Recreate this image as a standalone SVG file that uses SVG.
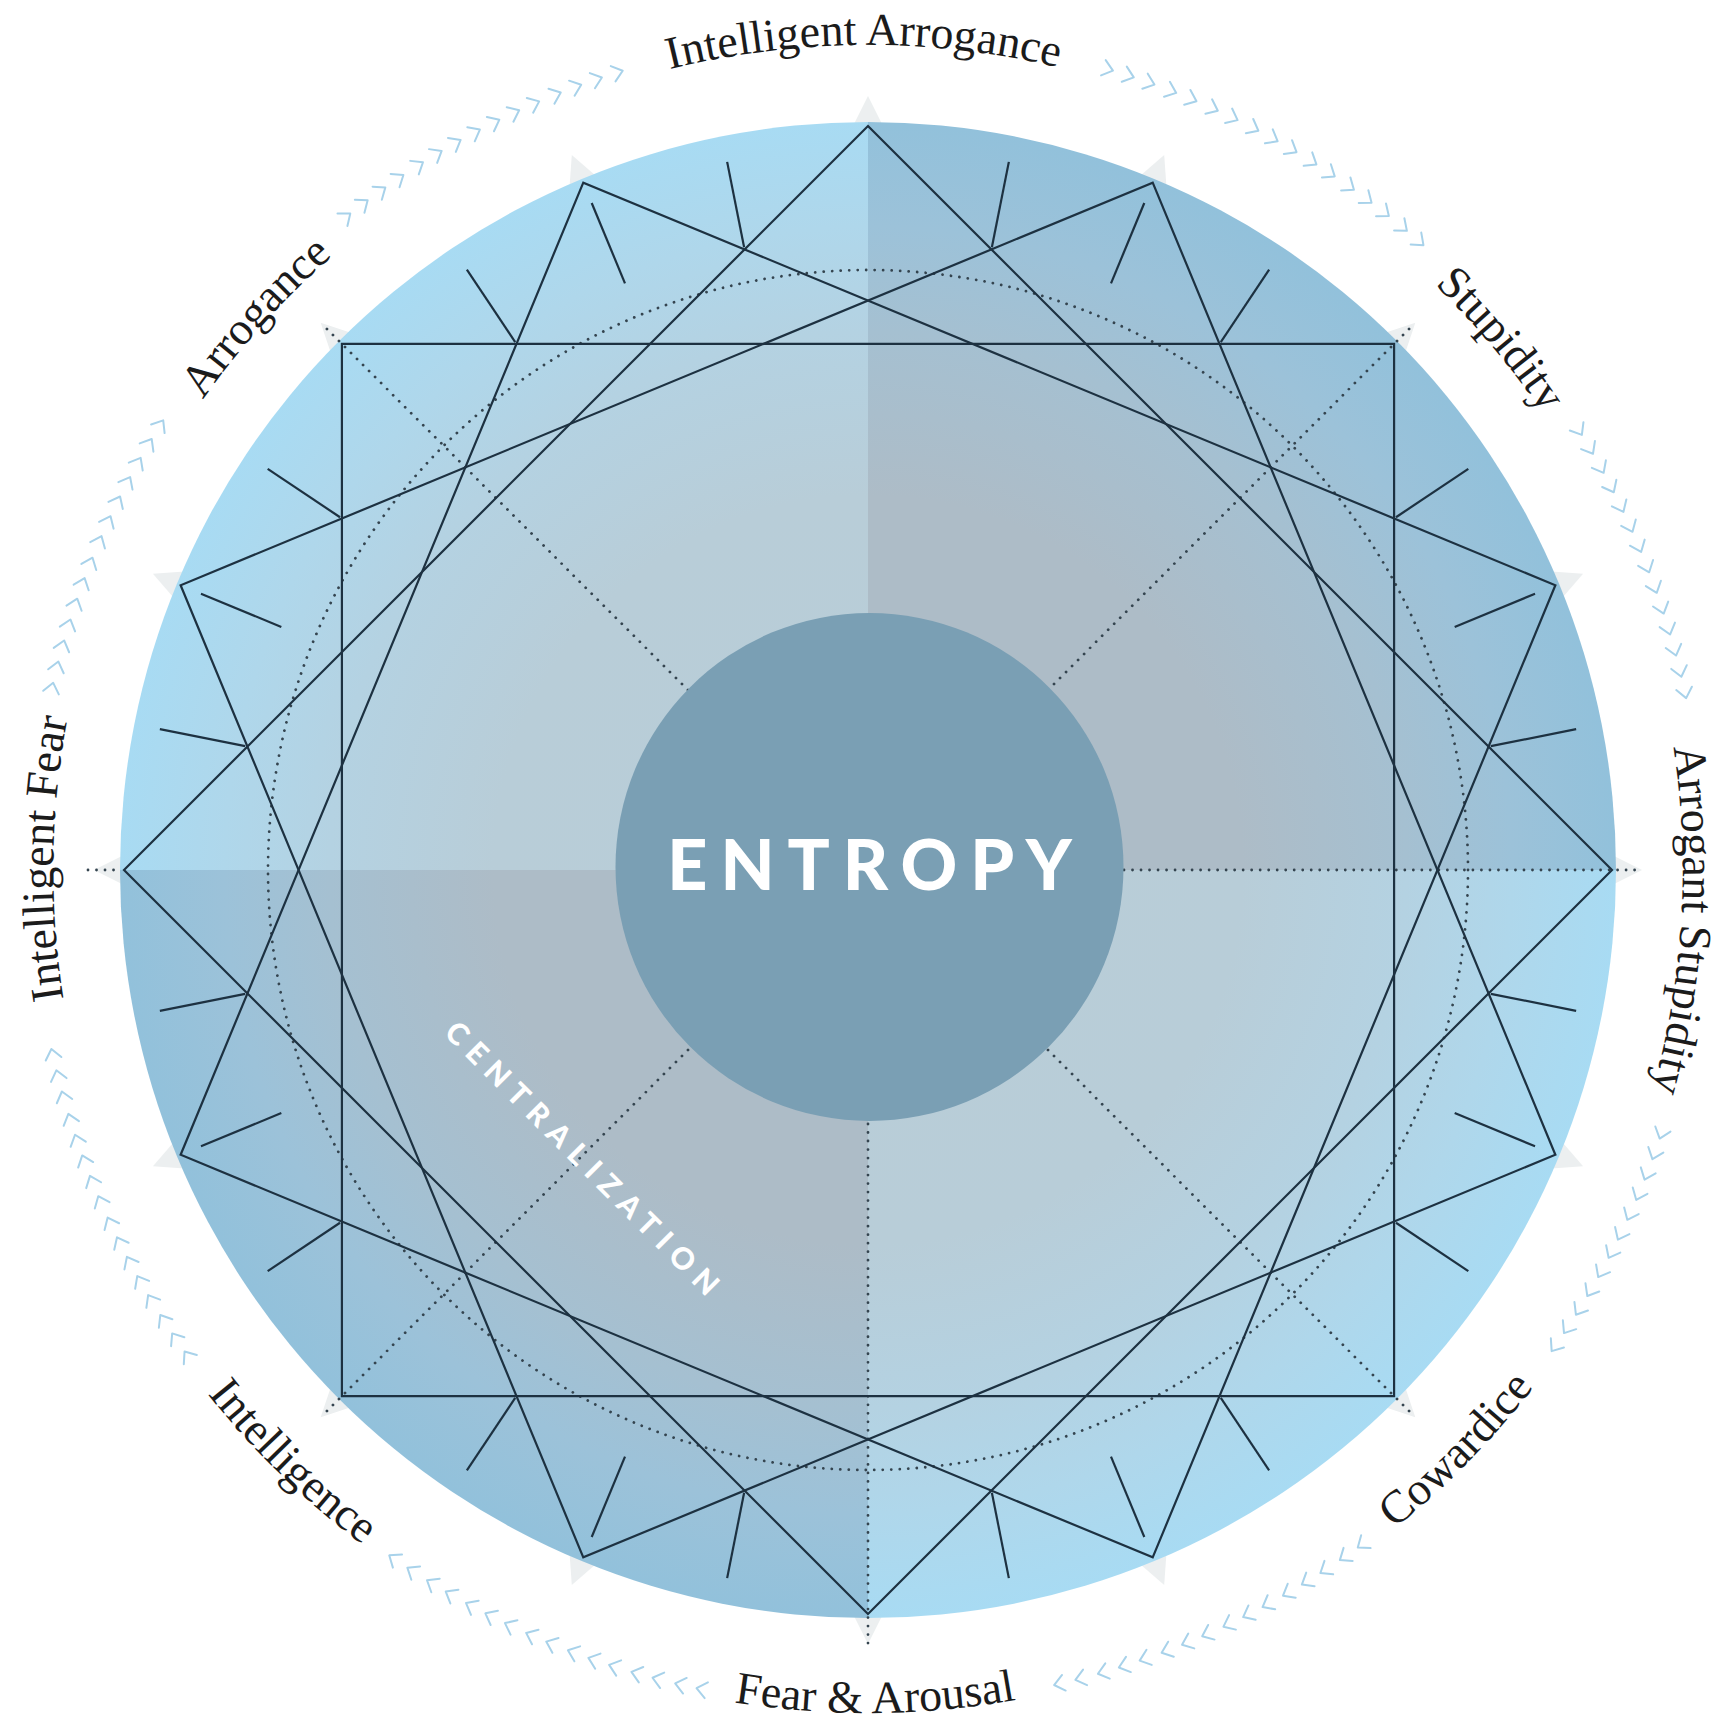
<svg xmlns="http://www.w3.org/2000/svg" width="1728" height="1725" viewBox="0 0 1728 1725">
<defs>
<style>
.star{fill:none;stroke:#1d3141;stroke-width:2.2;stroke-linejoin:miter}
.tick{stroke:#1d3141;stroke-width:2.2}
.dot{fill:none;stroke:#34444f;stroke-width:2.8;stroke-linecap:round;stroke-dasharray:0.01 8.5}
.lbl{font-family:"Liberation Serif","Times New Roman",serif;font-size:46px;fill:#1b1b1b}
.chev{fill:none;stroke:#a8d2ea;stroke-width:2;stroke-linecap:round;stroke-linejoin:round}
.shadow{fill:#eceff0}
.core{font-family:Lato,"Open Sans","Liberation Sans",sans-serif;font-weight:900;fill:#ffffff}
</style>
<radialGradient id="gL" cx="868" cy="870" r="748" gradientUnits="userSpaceOnUse">
<stop offset="0" stop-color="#b9cdd7"/>
<stop offset="0.5" stop-color="#b8cdd8"/>
<stop offset="0.72" stop-color="#b4d2e2"/>
<stop offset="0.86" stop-color="#afd7eb"/>
<stop offset="1" stop-color="#a8dbf3"/>
</radialGradient>
<radialGradient id="gD" cx="868" cy="870" r="748" gradientUnits="userSpaceOnUse">
<stop offset="0" stop-color="#adbcc7"/>
<stop offset="0.5" stop-color="#adbcc7"/>
<stop offset="0.72" stop-color="#a5c0d1"/>
<stop offset="0.86" stop-color="#9cc2d9"/>
<stop offset="1" stop-color="#92c1db"/>
</radialGradient>
<path id="vs" d="M868,96 L846,140 L890,140 Z"/>
<line id="tk" x1="868" y1="235" x2="868" y2="148"/>
<path id="cv" d="M860,26 L870,34 L860,42"/>
<path id="ao825" d="M43,870 A825,825 0 0 1 1693,870"/>
<path id="ao815" d="M53,870 A815,815 0 0 1 1683,870"/>
<path id="ai843" d="M25,870 A843,843 0 0 0 1711,870"/>
</defs>
<rect x="0" y="0" width="1728" height="1725" fill="#ffffff"/>

<g id="vertex-shadows" class="shadow">
<use href="#vs" transform="rotate(0 868 870)"/><use href="#vs" transform="rotate(22.5 868 870)"/><use href="#vs" transform="rotate(45 868 870)"/><use href="#vs" transform="rotate(67.5 868 870)"/>
<use href="#vs" transform="rotate(90 868 870)"/><use href="#vs" transform="rotate(112.5 868 870)"/><use href="#vs" transform="rotate(135 868 870)"/><use href="#vs" transform="rotate(157.5 868 870)"/>
<use href="#vs" transform="rotate(180 868 870)"/><use href="#vs" transform="rotate(202.5 868 870)"/><use href="#vs" transform="rotate(225 868 870)"/><use href="#vs" transform="rotate(247.5 868 870)"/>
<use href="#vs" transform="rotate(270 868 870)"/><use href="#vs" transform="rotate(292.5 868 870)"/><use href="#vs" transform="rotate(315 868 870)"/><use href="#vs" transform="rotate(337.5 868 870)"/>
</g>

<g id="disc">
<path d="M868,870 L120,870 A748,748 0 0 1 868,122 Z" fill="url(#gL)"/>
<path d="M868,870 L868,122 A748,748 0 0 1 1616,870 Z" fill="url(#gD)"/>
<path d="M868,870 L1616,870 A748,748 0 0 1 868,1618 Z" fill="url(#gL)"/>
<path d="M868,870 L868,1618 A748,748 0 0 1 120,870 Z" fill="url(#gD)"/>
</g>

<g id="guides" class="dot">
<circle cx="868" cy="870" r="600"/>
<line x1="688" y1="690" x2="322" y2="324"/>
<line x1="1048" y1="690" x2="1414" y2="324"/>
<line x1="1048" y1="1050" x2="1414" y2="1416"/>
<line x1="688" y1="1050" x2="322" y2="1416"/>
<line x1="1124" y1="870" x2="1640" y2="870"/>
<line x1="868" y1="1124" x2="868" y2="1650"/>
<line x1="88" y1="870" x2="122" y2="870"/>
</g>

<g id="entropy">
<circle cx="869.5" cy="867" r="254" fill="#7a9fb4"/>
<text class="core" x="876" y="890" text-anchor="middle" font-size="70" letter-spacing="13">ENTROPY</text>
</g>

<g id="centralization">
<text class="core" transform="translate(578 1169) rotate(45)" x="0" y="0" text-anchor="middle" font-size="30" letter-spacing="9">CENTRALIZATION</text>
</g>

<g id="connectors">
<polygon class="star" points="868,126 1612,870 868,1614 124,870"/>
<polygon class="star" points="1394.09,343.91 1394.09,1396.09 341.91,1396.09 341.91,343.91"/>
<polygon class="star" points="1152.72,182.63 1555.37,1154.72 583.28,1557.37 180.63,585.28"/>
<polygon class="star" points="1555.37,585.28 1152.72,1557.37 180.63,1154.72 583.28,182.63"/>
<g class="tick">
<use href="#tk" transform="rotate(11.25 868 870)"/><use href="#tk" transform="rotate(33.75 868 870)"/><use href="#tk" transform="rotate(56.25 868 870)"/><use href="#tk" transform="rotate(78.75 868 870)"/>
<use href="#tk" transform="rotate(101.25 868 870)"/><use href="#tk" transform="rotate(123.75 868 870)"/><use href="#tk" transform="rotate(146.25 868 870)"/><use href="#tk" transform="rotate(168.75 868 870)"/>
<use href="#tk" transform="rotate(191.25 868 870)"/><use href="#tk" transform="rotate(213.75 868 870)"/><use href="#tk" transform="rotate(236.25 868 870)"/><use href="#tk" transform="rotate(258.75 868 870)"/>
<use href="#tk" transform="rotate(281.25 868 870)"/><use href="#tk" transform="rotate(303.75 868 870)"/><use href="#tk" transform="rotate(326.25 868 870)"/><use href="#tk" transform="rotate(348.75 868 870)"/>
<use href="#tk" transform="rotate(22.5 868 870)"/><use href="#tk" transform="rotate(67.5 868 870)"/><use href="#tk" transform="rotate(112.5 868 870)"/><use href="#tk" transform="rotate(157.5 868 870)"/>
<use href="#tk" transform="rotate(202.5 868 870)"/><use href="#tk" transform="rotate(247.5 868 870)"/><use href="#tk" transform="rotate(292.5 868 870)"/><use href="#tk" transform="rotate(337.5 868 870)"/>
</g>
<g id="chevrons" class="chev">
<use href="#cv" transform="rotate(321.6 868 870)"/><use href="#cv" transform="rotate(323.1 868 870)"/><use href="#cv" transform="rotate(324.6 868 870)"/><use href="#cv" transform="rotate(326.1 868 870)"/><use href="#cv" transform="rotate(327.7 868 870)"/><use href="#cv" transform="rotate(329.2 868 870)"/><use href="#cv" transform="rotate(330.7 868 870)"/><use href="#cv" transform="rotate(332.2 868 870)"/><use href="#cv" transform="rotate(333.7 868 870)"/><use href="#cv" transform="rotate(335.2 868 870)"/><use href="#cv" transform="rotate(336.7 868 870)"/><use href="#cv" transform="rotate(338.3 868 870)"/><use href="#cv" transform="rotate(339.8 868 870)"/><use href="#cv" transform="rotate(341.3 868 870)"/><use href="#cv" transform="rotate(342.8 868 870)"/>
<use href="#cv" transform="rotate(16.9 868 870)"/><use href="#cv" transform="rotate(18.4 868 870)"/><use href="#cv" transform="rotate(19.9 868 870)"/><use href="#cv" transform="rotate(21.5 868 870)"/><use href="#cv" transform="rotate(23 868 870)"/><use href="#cv" transform="rotate(24.6 868 870)"/><use href="#cv" transform="rotate(26.1 868 870)"/><use href="#cv" transform="rotate(27.7 868 870)"/><use href="#cv" transform="rotate(29.2 868 870)"/><use href="#cv" transform="rotate(30.7 868 870)"/><use href="#cv" transform="rotate(32.3 868 870)"/><use href="#cv" transform="rotate(33.8 868 870)"/><use href="#cv" transform="rotate(35.4 868 870)"/><use href="#cv" transform="rotate(36.9 868 870)"/><use href="#cv" transform="rotate(38.4 868 870)"/><use href="#cv" transform="rotate(40 868 870)"/><use href="#cv" transform="rotate(41.5 868 870)"/>
<use href="#cv" transform="rotate(58.5 868 870)"/><use href="#cv" transform="rotate(60 868 870)"/><use href="#cv" transform="rotate(61.5 868 870)"/><use href="#cv" transform="rotate(63 868 870)"/><use href="#cv" transform="rotate(64.5 868 870)"/><use href="#cv" transform="rotate(66 868 870)"/><use href="#cv" transform="rotate(67.5 868 870)"/><use href="#cv" transform="rotate(69 868 870)"/><use href="#cv" transform="rotate(70.5 868 870)"/><use href="#cv" transform="rotate(72 868 870)"/><use href="#cv" transform="rotate(73.5 868 870)"/><use href="#cv" transform="rotate(75 868 870)"/><use href="#cv" transform="rotate(76.5 868 870)"/><use href="#cv" transform="rotate(78 868 870)"/>
<use href="#cv" transform="rotate(108.6 868 870)"/><use href="#cv" transform="rotate(110.1 868 870)"/><use href="#cv" transform="rotate(111.6 868 870)"/><use href="#cv" transform="rotate(113.1 868 870)"/><use href="#cv" transform="rotate(114.6 868 870)"/><use href="#cv" transform="rotate(116.1 868 870)"/><use href="#cv" transform="rotate(117.5 868 870)"/><use href="#cv" transform="rotate(119 868 870)"/><use href="#cv" transform="rotate(120.5 868 870)"/><use href="#cv" transform="rotate(122 868 870)"/><use href="#cv" transform="rotate(123.5 868 870)"/><use href="#cv" transform="rotate(125 868 870)"/>
<use href="#cv" transform="rotate(144 868 870)"/><use href="#cv" transform="rotate(145.5 868 870)"/><use href="#cv" transform="rotate(147.1 868 870)"/><use href="#cv" transform="rotate(148.6 868 870)"/><use href="#cv" transform="rotate(150.1 868 870)"/><use href="#cv" transform="rotate(151.7 868 870)"/><use href="#cv" transform="rotate(153.2 868 870)"/><use href="#cv" transform="rotate(154.7 868 870)"/><use href="#cv" transform="rotate(156.3 868 870)"/><use href="#cv" transform="rotate(157.8 868 870)"/><use href="#cv" transform="rotate(159.3 868 870)"/><use href="#cv" transform="rotate(160.9 868 870)"/><use href="#cv" transform="rotate(162.4 868 870)"/><use href="#cv" transform="rotate(163.9 868 870)"/><use href="#cv" transform="rotate(165.5 868 870)"/><use href="#cv" transform="rotate(167 868 870)"/>
<use href="#cv" transform="rotate(191.7 868 870)"/><use href="#cv" transform="rotate(193.2 868 870)"/><use href="#cv" transform="rotate(194.8 868 870)"/><use href="#cv" transform="rotate(196.3 868 870)"/><use href="#cv" transform="rotate(197.9 868 870)"/><use href="#cv" transform="rotate(199.4 868 870)"/><use href="#cv" transform="rotate(200.9 868 870)"/><use href="#cv" transform="rotate(202.5 868 870)"/><use href="#cv" transform="rotate(204 868 870)"/><use href="#cv" transform="rotate(205.6 868 870)"/><use href="#cv" transform="rotate(207.1 868 870)"/><use href="#cv" transform="rotate(208.6 868 870)"/><use href="#cv" transform="rotate(210.2 868 870)"/><use href="#cv" transform="rotate(211.7 868 870)"/><use href="#cv" transform="rotate(213.3 868 870)"/><use href="#cv" transform="rotate(214.8 868 870)"/>
<use href="#cv" transform="rotate(234.7 868 870)"/><use href="#cv" transform="rotate(236.2 868 870)"/><use href="#cv" transform="rotate(237.7 868 870)"/><use href="#cv" transform="rotate(239.3 868 870)"/><use href="#cv" transform="rotate(240.8 868 870)"/><use href="#cv" transform="rotate(242.3 868 870)"/><use href="#cv" transform="rotate(243.8 868 870)"/><use href="#cv" transform="rotate(245.3 868 870)"/><use href="#cv" transform="rotate(246.9 868 870)"/><use href="#cv" transform="rotate(248.4 868 870)"/><use href="#cv" transform="rotate(249.9 868 870)"/><use href="#cv" transform="rotate(251.4 868 870)"/><use href="#cv" transform="rotate(252.9 868 870)"/><use href="#cv" transform="rotate(254.5 868 870)"/><use href="#cv" transform="rotate(256 868 870)"/><use href="#cv" transform="rotate(257.5 868 870)"/>
<use href="#cv" transform="rotate(282.8 868 870)"/><use href="#cv" transform="rotate(284.3 868 870)"/><use href="#cv" transform="rotate(285.8 868 870)"/><use href="#cv" transform="rotate(287.3 868 870)"/><use href="#cv" transform="rotate(288.8 868 870)"/><use href="#cv" transform="rotate(290.3 868 870)"/><use href="#cv" transform="rotate(291.8 868 870)"/><use href="#cv" transform="rotate(293.4 868 870)"/><use href="#cv" transform="rotate(294.9 868 870)"/><use href="#cv" transform="rotate(296.4 868 870)"/><use href="#cv" transform="rotate(297.9 868 870)"/><use href="#cv" transform="rotate(299.4 868 870)"/><use href="#cv" transform="rotate(300.9 868 870)"/><use href="#cv" transform="rotate(302.4 868 870)"/>
</g>
</g>

<g id="label-intelligent-arrogance"><text class="lbl" transform="rotate(-0.3 868 870)"><textPath href="#ao825" startOffset="50%" text-anchor="middle">Intelligent Arrogance</textPath></text></g>
<g id="label-stupidity"><text class="lbl" transform="rotate(50 868 870)"><textPath href="#ao815" startOffset="50%" text-anchor="middle">Stupidity</textPath></text></g>
<g id="label-arrogant-stupidity"><text class="lbl" transform="rotate(93.5 868 870)"><textPath href="#ao815" startOffset="50%" text-anchor="middle">Arrogant Stupidity</textPath></text></g>
<g id="label-cowardice"><text class="lbl" transform="rotate(-45.4 868 870)"><textPath href="#ai843" startOffset="50%" text-anchor="middle">Cowardice</textPath></text></g>
<g id="label-fear-arousal"><text class="lbl" transform="rotate(-0.5 868 870)"><textPath href="#ai843" startOffset="50%" text-anchor="middle">Fear &amp; Arousal</textPath></text></g>
<g id="label-intelligence"><text class="lbl" transform="rotate(44.2 868 870)"><textPath href="#ai843" startOffset="50%" text-anchor="middle">Intelligence</textPath></text></g>
<g id="label-intelligent-fear"><text class="lbl" transform="rotate(-89.2 868 870)"><textPath href="#ao815" startOffset="50%" text-anchor="middle">Intelligent Fear</textPath></text></g>
<g id="label-arrogance"><text class="lbl" transform="rotate(-47.9 868 870)"><textPath href="#ao815" startOffset="50%" text-anchor="middle">Arrogance</textPath></text></g>
</svg>
